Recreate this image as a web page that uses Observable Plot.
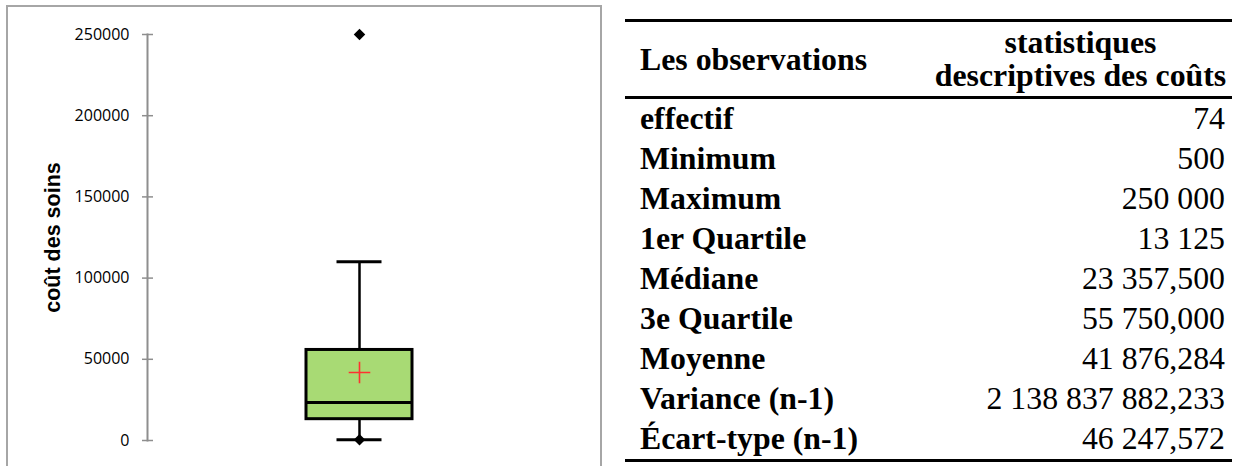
<!DOCTYPE html>
<html><head><meta charset="utf-8">
<script src="https://cdn.jsdelivr.net/npm/d3@7"></script>
<script src="https://cdn.jsdelivr.net/npm/@observablehq/plot@0.6"></script>
<style>
body{margin:0;background:#fff;}
#wrap{position:relative;width:1236px;height:466px;overflow:hidden;background:#fff;}
#chart{position:absolute;left:0;top:0;}
#frame{position:absolute;left:6px;top:5px;width:596px;height:480px;border:2px solid #a6a6a6;border-bottom:none;box-sizing:border-box;}
#tbl{position:absolute;left:625px;top:19px;width:607px;border-collapse:collapse;border-top:3px solid #000;border-bottom:3px solid #000;font-family:"Liberation Serif","Times New Roman",serif;font-size:31.8px;color:#000;}
#tbl th{font-weight:bold;height:74px;line-height:33px;padding:0;border-bottom:3px solid #000;vertical-align:middle;}
#tbl th.l{text-align:left;padding-left:15px;width:285px;}
#tbl th.r{text-align:center;padding-left:4px;}
#tbl td{height:40px;line-height:40px;padding:0;white-space:nowrap;}
#tbl td.l{font-weight:bold;padding-left:15px;}
#tbl td.r{text-align:right;padding-right:7px;}
</style>
</head><body>
<div id="wrap">
  <div id="frame"></div>
  <div id="chart"></div>
  <table id="tbl"></table>
</div>
<script>
// ---- data ----
const seriesNames = ["coût des soins"];
const boxMin = [500];
const boxQ1 = [13125];
const boxMedian = [23357.5];
const boxQ3 = [55750];
const boxMean = [41876.284];
const boxUpperWhisker = [110000];
const outlierValues = [250000];
const yTicks = [0, 50000, 100000, 150000, 200000, 250000];
const yTitle = "coût des soins";

const headerLabels = ["Les observations", "statistiques<br>descriptives des coûts"];
const statLabels = ["effectif","Minimum","Maximum","1er Quartile","Médiane","3e Quartile","Moyenne","Variance (n-1)","Écart-type (n-1)"];
const statValues = ["74","500","250 000","13 125","23 357,500","55 750,000","41 876,284","2 138 837 882,233","46 247,572"];

// ---- build ----
const boxes = seriesNames.map((name, i) => ({
  name, min: boxMin[i], q1: boxQ1[i], median: boxMedian[i], q3: boxQ3[i],
  mean: boxMean[i], hi: boxUpperWhisker[i]
}));
const points = [
  ...outlierValues.map(v => ({name: seriesNames[0], v})),
  ...boxes.map(b => ({name: b.name, v: b.min}))
];

const gray = "#8e8e8e";
const chart = Plot.plot({
  width: 600, height: 466,
  marginLeft: 147, marginRight: 29, marginTop: 34, marginBottom: 26,
  style: {fontFamily: "'Open Sans', sans-serif", fontSize: "16px", background: "transparent", color: "#000", overflow: "visible"},
  x: {type: "band", domain: seriesNames, padding: 0.6, axis: null},
  y: {domain: [0, 250000]},
  marks: [
    Plot.frame({anchor: "left", stroke: gray, strokeWidth: 2}),
    Plot.axisY({ticks: yTicks, tickSize: 11, dx: 6, fill: "none", stroke: gray, strokeWidth: 1.5, label: null}),
    Plot.axisY({ticks: yTicks, tickSize: 0, tickPadding: 18, tickFormat: d => String(d), fill: "#000", label: null}),
    Plot.text([yTitle], {frameAnchor: "left", dx: -94, rotate: -90, textAnchor: "middle", fontWeight: "bold", fontSize: 21.5, fontFamily: "'Liberation Sans', Arial, sans-serif", fill: "#000"}),
    Plot.ruleX(boxes, {x: "name", y1: "min", y2: "hi", stroke: "#000", strokeWidth: 2.5}),
    Plot.barY(boxes, {x: "name", y1: "q1", y2: "q3", fill: "#a8da74", stroke: "#000", strokeWidth: 3}),
    Plot.tickY(boxes, {x: "name", y: "median", stroke: "#000", strokeWidth: 3}),
    Plot.tickY(boxes, {x: "name", y: "hi", stroke: "#000", strokeWidth: 3, insetLeft: 30.5, insetRight: 30.5}),
    Plot.tickY(boxes, {x: "name", y: "min", stroke: "#000", strokeWidth: 3, insetLeft: 30.5, insetRight: 30.5}),
    Plot.dot(points, {x: "name", y: "v", symbol: "diamond2", r: 5.2, fill: "#000", stroke: "none"}),
    Plot.dot(boxes, {x: "name", y: "mean", symbol: "plus", r: 7, stroke: "#ff3030", strokeWidth: 1.6})
  ]
});
document.getElementById("chart").appendChild(chart);

const tbl = document.getElementById("tbl");
let html = `<thead><tr><th class="l">${headerLabels[0]}</th><th class="r">${headerLabels[1]}</th></tr></thead><tbody>`;
statLabels.forEach((l, i) => {
  html += `<tr><td class="l">${l}</td><td class="r">${statValues[i]}</td></tr>`;
});
html += "</tbody>";
tbl.innerHTML = html;
</script>
</body></html>
